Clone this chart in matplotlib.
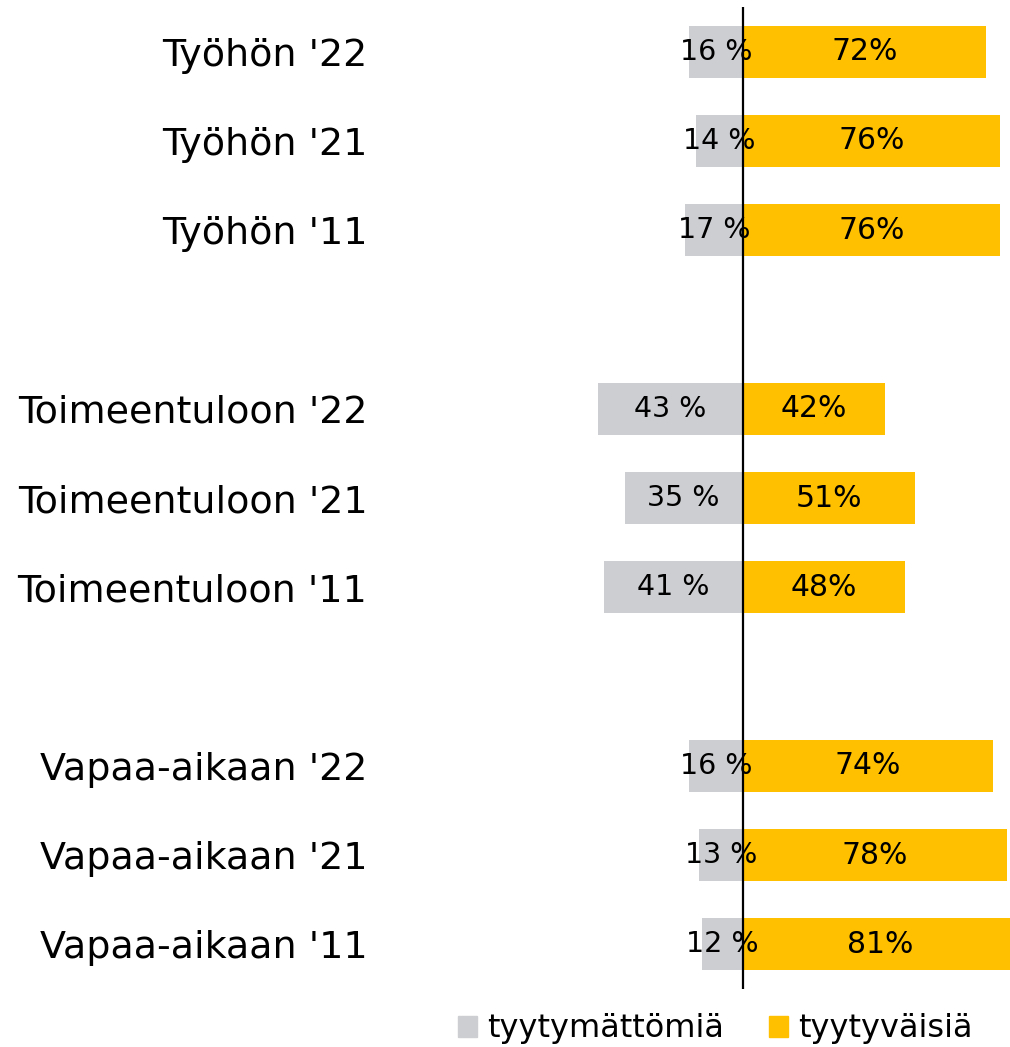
import matplotlib.pyplot as plt
from matplotlib.patches import Patch

categories = ["Työhön '22", "Työhön '21", "Työhön '11",
              "Toimeentuloon '22", "Toimeentuloon '21", "Toimeentuloon '11",
              "Vapaa-aikaan '22", "Vapaa-aikaan '21", "Vapaa-aikaan '11"]
positions = [0, 1, 2, 4, 5, 6, 8, 9, 10]
dissatisfied = [16, 14, 17, 43, 35, 41, 16, 13, 12]
satisfied = [72, 76, 76, 42, 51, 48, 74, 78, 81]

gray = '#CDCED2'
yellow = '#FFC000'

plt.rcParams['font.family'] = ['DejaVu Sans']

fig = plt.figure(figsize=(10.10, 10.47), dpi=100)
ax = fig.add_axes([0.376, 0.0554, 0.624, 0.9379])

ax.barh(positions, [-d for d in dissatisfied], height=0.58, color=gray, zorder=1)
ax.barh(positions, satisfied, height=0.58, color=yellow, zorder=1)
ax.axvline(0, color='black', linewidth=1.6, zorder=3)

for p, d, s in zip(positions, dissatisfied, satisfied):
    ax.text(-d / 2, p, f'{d} %', ha='center', va='center', fontsize=20.5, zorder=4)
    ax.text(s / 2, p, f'{s}%', ha='center', va='center', fontsize=21.5, zorder=4)

ax.set_xlim(-107.4, 79.0)
ax.set_ylim(10.5, -0.5)
ax.set_yticks(positions)
ax.set_yticklabels(categories, fontsize=27.4)
ax.tick_params(axis='y', length=0, pad=9)
ax.set_xticks([])
for sp in ax.spines.values():
    sp.set_visible(False)

handles = [Patch(color=gray, label='tyytymättömiä'),
           Patch(color=yellow, label='tyytyväisiä')]
fig.legend(handles=handles, loc='center', bbox_to_anchor=(715 / 1010, 1 - 1029 / 1047),
           ncol=2, frameon=False, fontsize=23, handlelength=0.62, handleheight=0.62,
           handletextpad=0.3, columnspacing=1.4, borderpad=0.2)

fig.savefig('out.png', dpi=100)
